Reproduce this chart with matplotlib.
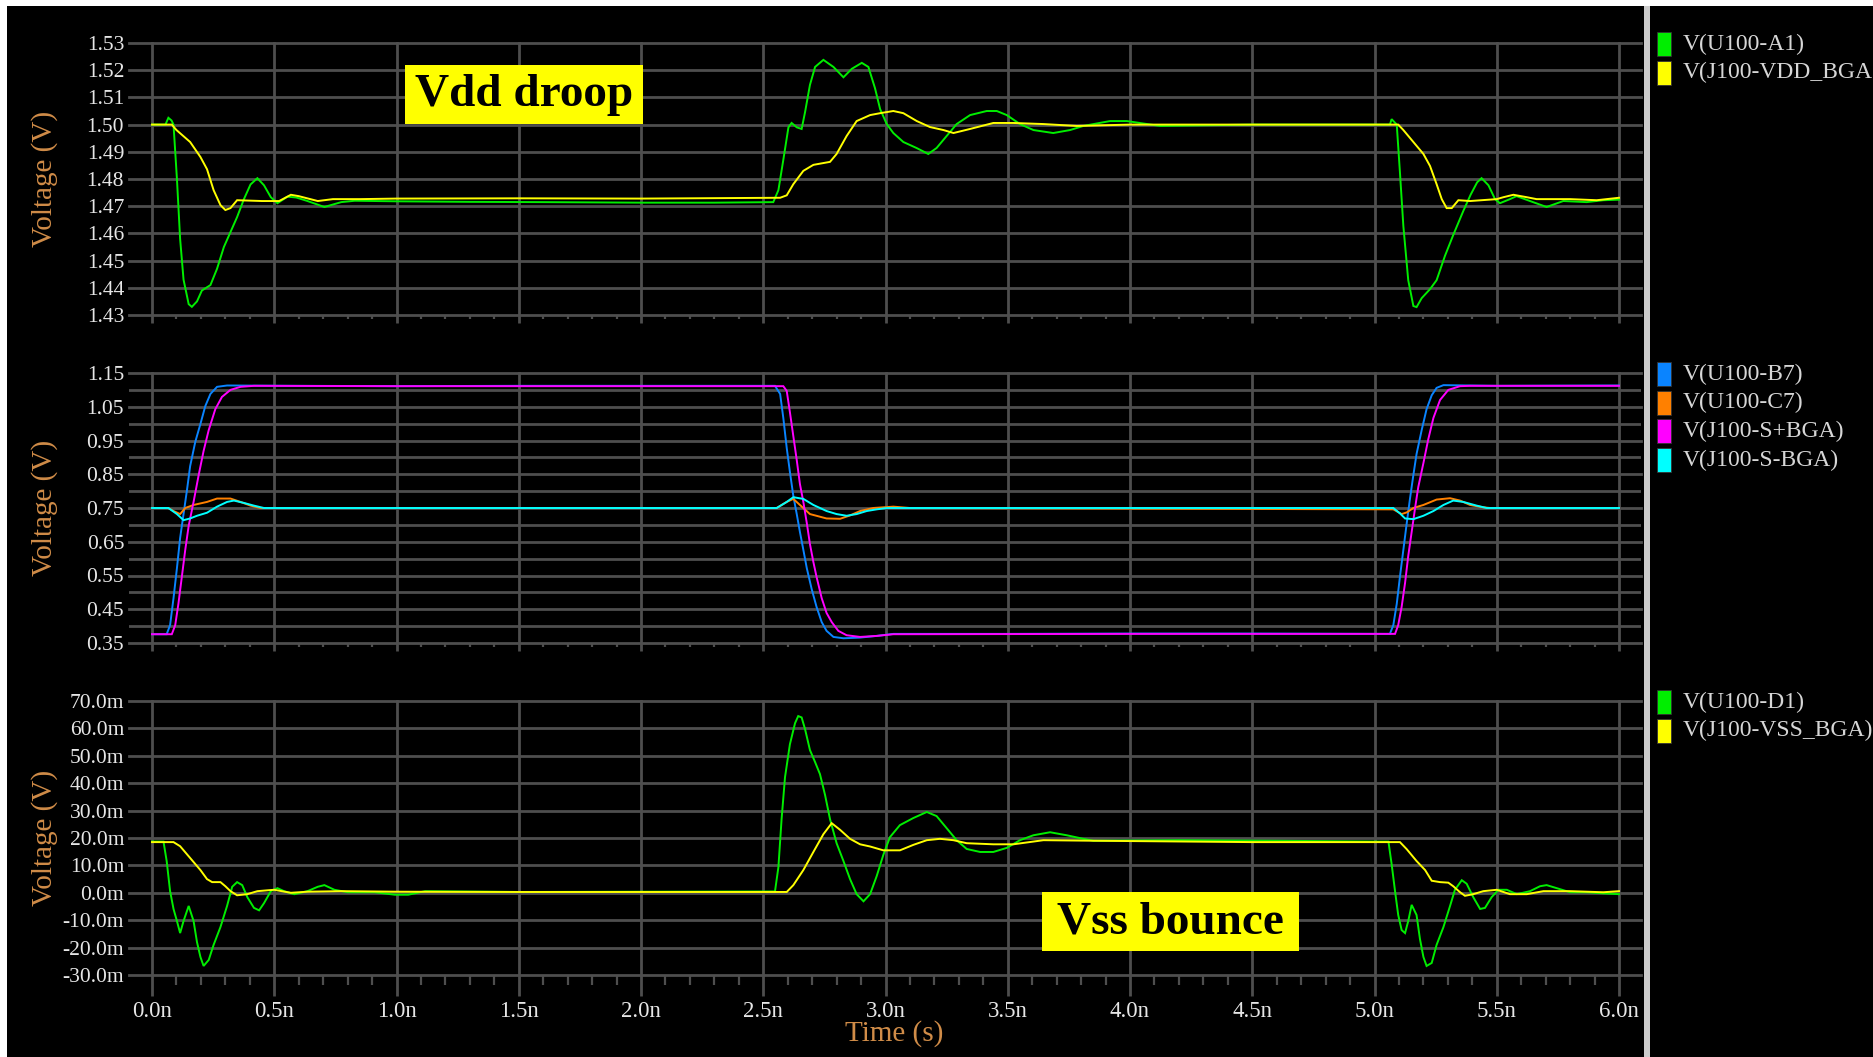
import numpy as np
import matplotlib.pyplot as plt
from matplotlib.patches import Rectangle
from matplotlib.ticker import MultipleLocator, FixedLocator, FuncFormatter

plt.rcParams['font.family'] = ['Liberation Serif', 'DejaVu Serif']

# ---- waveforms (time in ns) ----
# supply rail at the die (U100-A1) and at the BGA ball
a1_t = [0.0, 0.055, 0.067, 0.080, 0.088, 0.102, 0.115, 0.129, 0.150, 0.163, 0.184, 0.204,
        0.239, 0.266, 0.294, 0.321, 0.348, 0.376, 0.403, 0.431, 0.458, 0.486, 0.513, 0.554,
        0.590, 0.636, 0.705, 0.774, 0.829, 1.0, 1.3, 1.6, 2.0, 2.3, 2.541, 2.562, 2.582,
        2.603, 2.616, 2.637, 2.657, 2.671, 2.691, 2.712, 2.746, 2.787, 2.828, 2.862, 2.903,
        2.930, 2.957, 2.978, 3.005, 3.032, 3.073, 3.127, 3.175, 3.209, 3.250, 3.291, 3.346,
        3.414, 3.455, 3.496, 3.550, 3.605, 3.686, 3.755, 3.809, 3.918, 3.987, 4.123, 4.5,
        5.0, 5.063, 5.070, 5.091, 5.104, 5.118, 5.138, 5.159, 5.172, 5.193, 5.227, 5.254,
        5.288, 5.322, 5.363, 5.393, 5.420, 5.438, 5.466, 5.493, 5.513, 5.554, 5.581, 5.636,
        5.704, 5.772, 5.868, 5.936, 6.0]
a1_v = [1.500, 1.500, 1.5025, 1.5015, 1.500, 1.480, 1.458, 1.443, 1.434, 1.433, 1.435, 1.439,
        1.441, 1.447, 1.455, 1.4605, 1.466, 1.4726, 1.478, 1.4803, 1.4777, 1.4733, 1.4711, 1.4735,
        1.4732, 1.4719, 1.4697, 1.4715, 1.4720, 1.4718, 1.4716, 1.4715, 1.4713, 1.4713, 1.4715, 1.4759, 1.487,
        1.499, 1.5006, 1.4990, 1.4984, 1.5046, 1.5146, 1.5212, 1.5238, 1.5212, 1.5174, 1.5205, 1.5227,
        1.5212, 1.5134, 1.5057, 1.5002, 1.4969, 1.4936, 1.4914, 1.4892, 1.4914, 1.4958, 1.5002, 1.5035,
        1.5050, 1.5050, 1.5035, 1.5002, 1.4980, 1.4969, 1.4980, 1.4995, 1.5013, 1.5013, 1.4995, 1.500,
        1.500, 1.500, 1.502, 1.500, 1.4825, 1.4627, 1.4428, 1.4333, 1.4329, 1.4362, 1.4395, 1.4428,
        1.4517, 1.4594, 1.4682, 1.4742, 1.4788, 1.4803, 1.4777, 1.4726, 1.4711, 1.4726, 1.4737, 1.4719,
        1.4697, 1.4719, 1.4715, 1.4722, 1.4724]

vdd_t = [0.0, 0.081, 0.100, 0.156, 0.198, 0.225, 0.252, 0.280, 0.300, 0.321, 0.348, 0.45,
         0.52, 0.568, 0.600, 0.678, 0.74, 0.85, 1.0, 1.5, 2.0, 2.569, 2.596, 2.623, 2.664,
         2.705, 2.773, 2.800, 2.841, 2.882, 2.937, 2.978, 3.032, 3.073, 3.128, 3.182, 3.237,
         3.278, 3.346, 3.441, 3.523, 3.646, 3.782, 4.0, 5.0, 5.097, 5.118, 5.159, 5.200,
         5.227, 5.254, 5.275, 5.295, 5.316, 5.343, 5.391, 5.500, 5.527, 5.568, 5.623, 5.663,
         5.800, 5.909, 6.0]
vdd_v = [1.500, 1.500, 1.498, 1.4936, 1.4881, 1.4836, 1.4759, 1.4704, 1.4686, 1.4693, 1.4722, 1.4719,
         1.4719, 1.4742, 1.4737, 1.4719, 1.4726, 1.4726, 1.4728, 1.4729, 1.4728, 1.4731, 1.4740, 1.4781, 1.4830,
         1.4852, 1.4863, 1.4892, 1.4958, 1.5013, 1.5035, 1.5042, 1.5050, 1.5042, 1.5013, 1.4991, 1.4980,
         1.4969, 1.4984, 1.5006, 1.5006, 1.5002, 1.4995, 1.500, 1.500, 1.500, 1.498, 1.4936, 1.4892,
         1.4848, 1.4781, 1.4726, 1.4693, 1.4693, 1.4722, 1.4719, 1.4726, 1.4733, 1.4742, 1.4733, 1.4726,
         1.4726, 1.4722, 1.4731]

# differential pair: driver pins and BGA balls
b7_t = [0.0, 0.060, 0.074, 0.088, 0.102, 0.115, 0.129, 0.143, 0.156, 0.177, 0.198, 0.218,
        0.239, 0.266, 0.307, 0.6, 1.0, 1.5, 2.0, 2.548, 2.569, 2.582, 2.596, 2.609, 2.623,
        2.637, 2.650, 2.664, 2.678, 2.698, 2.718, 2.739, 2.759, 2.787, 2.828, 2.896, 2.964,
        3.032, 3.5, 4.0, 4.5, 5.063, 5.077, 5.091, 5.104, 5.118, 5.132, 5.145, 5.159, 5.172,
        5.193, 5.213, 5.234, 5.254, 5.282, 5.5, 6.0]
b7_v = [0.376, 0.376, 0.403, 0.483, 0.572, 0.661, 0.732, 0.803, 0.874, 0.946, 0.999, 1.052,
        1.088, 1.109, 1.113, 1.112, 1.111, 1.112, 1.112, 1.112, 1.088, 1.017, 0.928, 0.857, 0.786,
        0.732, 0.679, 0.626, 0.572, 0.510, 0.457, 0.412, 0.386, 0.368, 0.364, 0.366, 0.371,
        0.377, 0.377, 0.378, 0.378, 0.377, 0.403, 0.466, 0.546, 0.626, 0.706, 0.777, 0.848, 0.910,
        0.981, 1.043, 1.084, 1.106, 1.114, 1.112, 1.113]

c7_t = [0.0, 0.067, 0.088, 0.115, 0.136, 0.170, 0.225, 0.266, 0.321, 0.362, 0.403, 0.444,
        2.555, 2.596, 2.623, 2.650, 2.691, 2.759, 2.814, 2.855, 2.896, 2.950, 3.032, 3.1,
        5.077, 5.111, 5.132, 5.159, 5.200, 5.254, 5.309, 5.350, 5.391, 5.445, 5.473, 6.0]
c7_v = [0.750, 0.750, 0.741, 0.732, 0.750, 0.759, 0.768, 0.778, 0.778, 0.768, 0.757, 0.750,
        0.750, 0.768, 0.777, 0.759, 0.732, 0.719, 0.718, 0.728, 0.741, 0.750, 0.754, 0.750,
        0.746, 0.732, 0.737, 0.750, 0.759, 0.775, 0.779, 0.772, 0.759, 0.752, 0.750, 0.750]

sp_t = [0.0, 0.081, 0.095, 0.108, 0.122, 0.136, 0.150, 0.170, 0.191, 0.211, 0.232, 0.259,
        0.286, 0.321, 0.362, 0.417, 1.0, 2.0, 2.582, 2.596, 2.609, 2.623, 2.637, 2.650,
        2.664, 2.678, 2.691, 2.705, 2.718, 2.739, 2.759, 2.780, 2.807, 2.841, 2.896, 2.964,
        3.032, 4.0, 5.084, 5.097, 5.111, 5.125, 5.138, 5.152, 5.166, 5.179, 5.200, 5.220,
        5.241, 5.268, 5.302, 5.350, 5.391, 6.0]
sp_v = [0.376, 0.376, 0.403, 0.466, 0.546, 0.626, 0.697, 0.768, 0.848, 0.919, 0.981, 1.043,
        1.079, 1.100, 1.109, 1.112, 1.111, 1.111, 1.111, 1.097, 1.034, 0.963, 0.892, 0.821,
        0.768, 0.706, 0.643, 0.590, 0.546, 0.483, 0.439, 0.412, 0.386, 0.373, 0.368, 0.371,
        0.376, 0.377, 0.377, 0.403, 0.457, 0.528, 0.608, 0.679, 0.750, 0.812, 0.883, 0.954,
        1.017, 1.070, 1.100, 1.111, 1.112, 1.112]

sm_t = [0.0, 0.067, 0.102, 0.129, 0.156, 0.184, 0.225, 0.266, 0.307, 0.335, 0.376, 0.417,
        0.458, 2.555, 2.596, 2.623, 2.664, 2.705, 2.759, 2.800, 2.841, 2.882, 2.923, 2.964,
        3.005, 5.077, 5.104, 5.125, 5.159, 5.200, 5.241, 5.282, 5.322, 5.363, 5.418, 5.459, 6.0]
sm_v = [0.750, 0.750, 0.732, 0.714, 0.719, 0.727, 0.736, 0.754, 0.768, 0.772, 0.765, 0.757,
        0.750, 0.750, 0.768, 0.782, 0.777, 0.759, 0.741, 0.732, 0.727, 0.732, 0.741, 0.746,
        0.750, 0.750, 0.734, 0.719, 0.717, 0.727, 0.741, 0.759, 0.772, 0.768, 0.757, 0.750, 0.750]

# ground rail, in mV
d1_t = [0.0, 0.047, 0.060, 0.074, 0.088, 0.102, 0.115, 0.129, 0.150, 0.170, 0.184, 0.198,
        0.211, 0.232, 0.252, 0.280, 0.307, 0.328, 0.348, 0.369, 0.390, 0.417, 0.438, 0.458,
        0.486, 0.513, 0.540, 0.582, 0.636, 0.678, 0.705, 0.746, 0.801, 0.911, 0.993, 1.048,
        1.117, 1.5, 2.0, 2.548, 2.562, 2.575, 2.589, 2.609, 2.630, 2.643, 2.657, 2.671,
        2.691, 2.712, 2.732, 2.753, 2.773, 2.800, 2.828, 2.855, 2.882, 2.910, 2.937, 2.964,
        2.991, 3.018, 3.059, 3.114, 3.169, 3.209, 3.250, 3.291, 3.332, 3.387, 3.441, 3.496,
        3.550, 3.605, 3.673, 3.741, 3.809, 3.850, 4.2, 4.6, 5.0, 5.057, 5.070, 5.084, 5.097,
        5.111, 5.125, 5.138, 5.152, 5.172, 5.186, 5.200, 5.213, 5.234, 5.254, 5.282, 5.309,
        5.329, 5.357, 5.377, 5.404, 5.432, 5.452, 5.479, 5.507, 5.541, 5.582, 5.636, 5.677,
        5.704, 5.745, 5.800, 5.868, 5.936, 6.0]
d1_mv = [18.7, 18.7, 11.6, 0.6, -5.9, -10.3, -14.7, -10.3, -4.8, -10.3, -18.0, -23.4,
         -26.7, -24.5, -19.0, -12.5, -4.8, 2.2, 3.9, 2.8, -1.6, -5.5, -6.4, -3.8,
         0.6, 1.7, 0.6, -0.5, 0.6, 2.2, 2.8, 1.1, 0.2, 0.2, -0.7, -0.7,
         0.6, 0.3, 0.4, 0.5, 9.4, 26.9, 42.2, 54.2, 61.9, 64.5, 64.0, 59.7,
         52.1, 47.7, 43.3, 35.6, 26.9, 18.1, 11.6, 5.0, -0.5, -3.1, -0.5, 6.1,
         13.8, 20.3, 24.7, 27.3, 29.5, 28.0, 23.6, 19.2, 16.0, 14.9, 14.9, 16.4,
         19.2, 21.0, 22.1, 21.0, 19.7, 19.0, 19.2, 19.0, 18.7, 18.7, 10.5, 0.6, -8.1,
         -13.6, -14.7, -10.3, -4.4, -8.1, -16.9, -23.4, -26.7, -25.6, -19.0, -12.5, -4.8,
         1.1, 4.6, 3.3, -1.6, -5.9, -5.5, -1.6, 1.1, 1.1, -0.5, 0.6, 2.4,
         2.8, 1.7, 0.2, 0.2, -0.2, -0.5]

vss_t = [0.0, 0.088, 0.115, 0.156, 0.198, 0.225, 0.246, 0.280, 0.300, 0.321, 0.348, 0.390,
         0.431, 0.499, 0.568, 0.636, 0.774, 1.0, 1.5, 2.0, 2.596, 2.623, 2.664, 2.705,
         2.746, 2.780, 2.814, 2.855, 2.896, 2.937, 2.991, 3.059, 3.114, 3.169, 3.223, 3.278,
         3.332, 3.441, 3.523, 3.646, 3.850, 4.5, 5.104, 5.132, 5.172, 5.207, 5.234, 5.268,
         5.302, 5.322, 5.350, 5.370, 5.404, 5.445, 5.500, 5.554, 5.623, 5.691, 5.800, 5.936, 6.0]
vss_mv = [18.5, 18.5, 17.0, 12.7, 8.3, 5.0, 3.9, 3.9, 2.4, 0.6, -0.9, -0.5,
          0.6, 1.1, 0.0, 0.4, 0.6, 0.4, 0.3, 0.3, 0.3, 2.8, 8.3, 14.9,
          21.4, 25.4, 23.0, 19.7, 17.7, 16.9, 15.5, 15.5, 17.5, 19.2, 19.7, 19.2,
          18.1, 17.7, 17.7, 19.2, 19.0, 18.5, 18.5, 15.9, 11.6, 8.3, 4.4, 3.9,
          3.7, 2.4, 0.2, -1.1, -0.5, 0.6, 1.1, -0.5, -0.5, 0.6, 0.6, 0.2, 0.6]

# y tick values per panel (labelled) and extra grid rows
top_ticks = [1.43, 1.44, 1.45, 1.46, 1.47, 1.48, 1.49, 1.50, 1.51, 1.52, 1.53]
mid_ticks = [0.35, 0.45, 0.55, 0.65, 0.75, 0.85, 0.95, 1.05, 1.15]
mid_rows = [0.40, 0.50, 0.60, 0.70, 0.80, 0.90, 1.00, 1.10]
bot_ticks = [-30, -20, -10, 0, 10, 20, 30, 40, 50, 60, 70]

W, H = 1873, 1057
BG = 'black'
GRID = '#4e4e4e'
TICK_TXT = '#e6e6e6'
LABEL = '#d08c48'
# pixel placement of the plotting column
AX_LEFT, AX_RIGHT = 129, 1641
T0_PX, PX_PER_NS = 152, 244.5


def fx(px):
    return px / W


def fy(py):
    return 1 - py / H


panels = [
    dict(top=43, bottom=315, ticks=top_ticks, rows=None,
         fmt=lambda v, p: f"{v:.2f}",
         series=[(a1_t, a1_v, '#00ee00', 'V(U100-A1)'),
                 (vdd_t, vdd_v, '#ffff00', 'V(J100-VDD_BGA')]),
    dict(top=373, bottom=643, ticks=mid_ticks, rows=mid_rows,
         fmt=lambda v, p: f"{v:.2f}",
         series=[(b7_t, b7_v, '#0a84ff', 'V(U100-B7)'),
                 (c7_t, c7_v, '#ff8000', 'V(U100-C7)'),
                 (sp_t, sp_v, '#ff00ff', 'V(J100-S+BGA)'),
                 (sm_t, sm_v, '#00ffff', 'V(J100-S-BGA)')]),
    dict(top=701, bottom=975, ticks=bot_ticks, rows=None,
         fmt=lambda v, p: f"{v:.1f}m",
         series=[(d1_t, d1_mv, '#00ee00', 'V(U100-D1)'),
                 (vss_t, vss_mv, '#ffff00', 'V(J100-VSS_BGA)')]),
]

fig = plt.figure(figsize=(W / 100, H / 100), dpi=100, facecolor=BG)

# white frame strip on the top and left edge
fig.patches.append(Rectangle((0, fy(6)), 1, 6 / H, transform=fig.transFigure,
                             facecolor='white', edgecolor='none'))
fig.patches.append(Rectangle((0, 0), 7 / W, 1, transform=fig.transFigure,
                             facecolor='white', edgecolor='none'))
# separator between plots and legend column
fig.patches.append(Rectangle((fx(1644), 0), 6 / W, fy(6), transform=fig.transFigure,
                             facecolor='#cccccc', edgecolor='none'))

xlim = ((AX_LEFT - T0_PX) / PX_PER_NS, (AX_RIGHT - T0_PX) / PX_PER_NS)

for i, p in enumerate(panels):
    last = i == len(panels) - 1
    ax = fig.add_axes([fx(AX_LEFT), fy(p['bottom']), (AX_RIGHT - AX_LEFT) / W,
                       (p['bottom'] - p['top']) / H])
    ax.set_facecolor(BG)
    for s in ax.spines.values():
        s.set_visible(False)
    ax.set_axisbelow(True)

    for t, v, c, lab in p['series']:
        ax.plot(t, v, color=c, lw=1.4, solid_joinstyle='miter')

    ax.set_xlim(*xlim)
    ax.set_ylim(p['ticks'][0], p['ticks'][-1])
    ax.xaxis.set_major_locator(MultipleLocator(0.5))
    ax.xaxis.set_minor_locator(MultipleLocator(0.1))
    ax.yaxis.set_major_locator(FixedLocator(p['ticks']))
    if p['rows']:
        ax.yaxis.set_minor_locator(FixedLocator(p['rows']))
        ax.grid(True, axis='y', which='minor', color=GRID, lw=2.0)
    ax.yaxis.set_major_formatter(FuncFormatter(p['fmt']))
    ax.grid(True, axis='y', which='major', color=GRID, lw=2.0)
    ax.grid(True, axis='x', which='major', color=GRID, lw=2.0)
    for gl in ax.get_xgridlines() + ax.get_ygridlines():
        gl.set_clip_on(False)

    ax.tick_params(axis='y', which='both', length=0, pad=3.5, labelsize=15.5,
                   labelcolor=TICK_TXT)
    if last:
        ax.tick_params(axis='x', which='major', direction='out', length=15, width=2.0,
                       color=GRID, pad=3.5, labelsize=16.5, labelcolor=TICK_TXT)
        ax.tick_params(axis='x', which='minor', direction='out', length=7, width=1.6,
                       color=GRID)
        ax.xaxis.set_major_formatter(FuncFormatter(lambda v, q: f"{v:.1f}n"))
    else:
        ax.tick_params(axis='x', which='major', direction='out', length=6, width=2.0,
                       color=GRID, labelbottom=False)
        ax.tick_params(axis='x', which='minor', direction='out', length=3, width=1.6,
                       color=GRID)

    # axis title per panel
    fig.text(fx(45), fy((p['top'] + p['bottom']) / 2), 'Voltage (V)', rotation=90,
             ha='center', va='center', color=LABEL, fontsize=21)

    # legend column
    for k, (t, v, c, lab) in enumerate(p['series']):
        yc = p['top'] + 1 + 28.7 * k
        fig.patches.append(Rectangle((fx(1657), fy(yc + 12)), 14 / W, 24 / H,
                                     transform=fig.transFigure, facecolor=c,
                                     edgecolor='#333333', lw=0.6))
        fig.text(fx(1683), fy(yc), lab, ha='left', va='center', color='#d6d6d6',
                 fontsize=17)

fig.text(fx(894), fy(1034), 'Time (s)', ha='center', va='center', color=LABEL,
         fontsize=21)

# callouts
for x0, y0, x1, y1, txt in [(405, 65, 643, 124, 'Vdd droop'),
                            (1042, 892, 1299, 951, 'Vss bounce')]:
    fig.patches.append(Rectangle((fx(x0), fy(y1)), (x1 - x0) / W, (y1 - y0) / H,
                                 transform=fig.transFigure, facecolor='#ffff00',
                                 edgecolor='none', zorder=5))
    fig.text(fx((x0 + x1) / 2), fy((y0 + y1) / 2 + 1), txt, ha='center', va='center',
             color='black', fontsize=34, fontweight='bold', zorder=6)

fig.savefig('out.png', dpi=100, facecolor=fig.get_facecolor())
